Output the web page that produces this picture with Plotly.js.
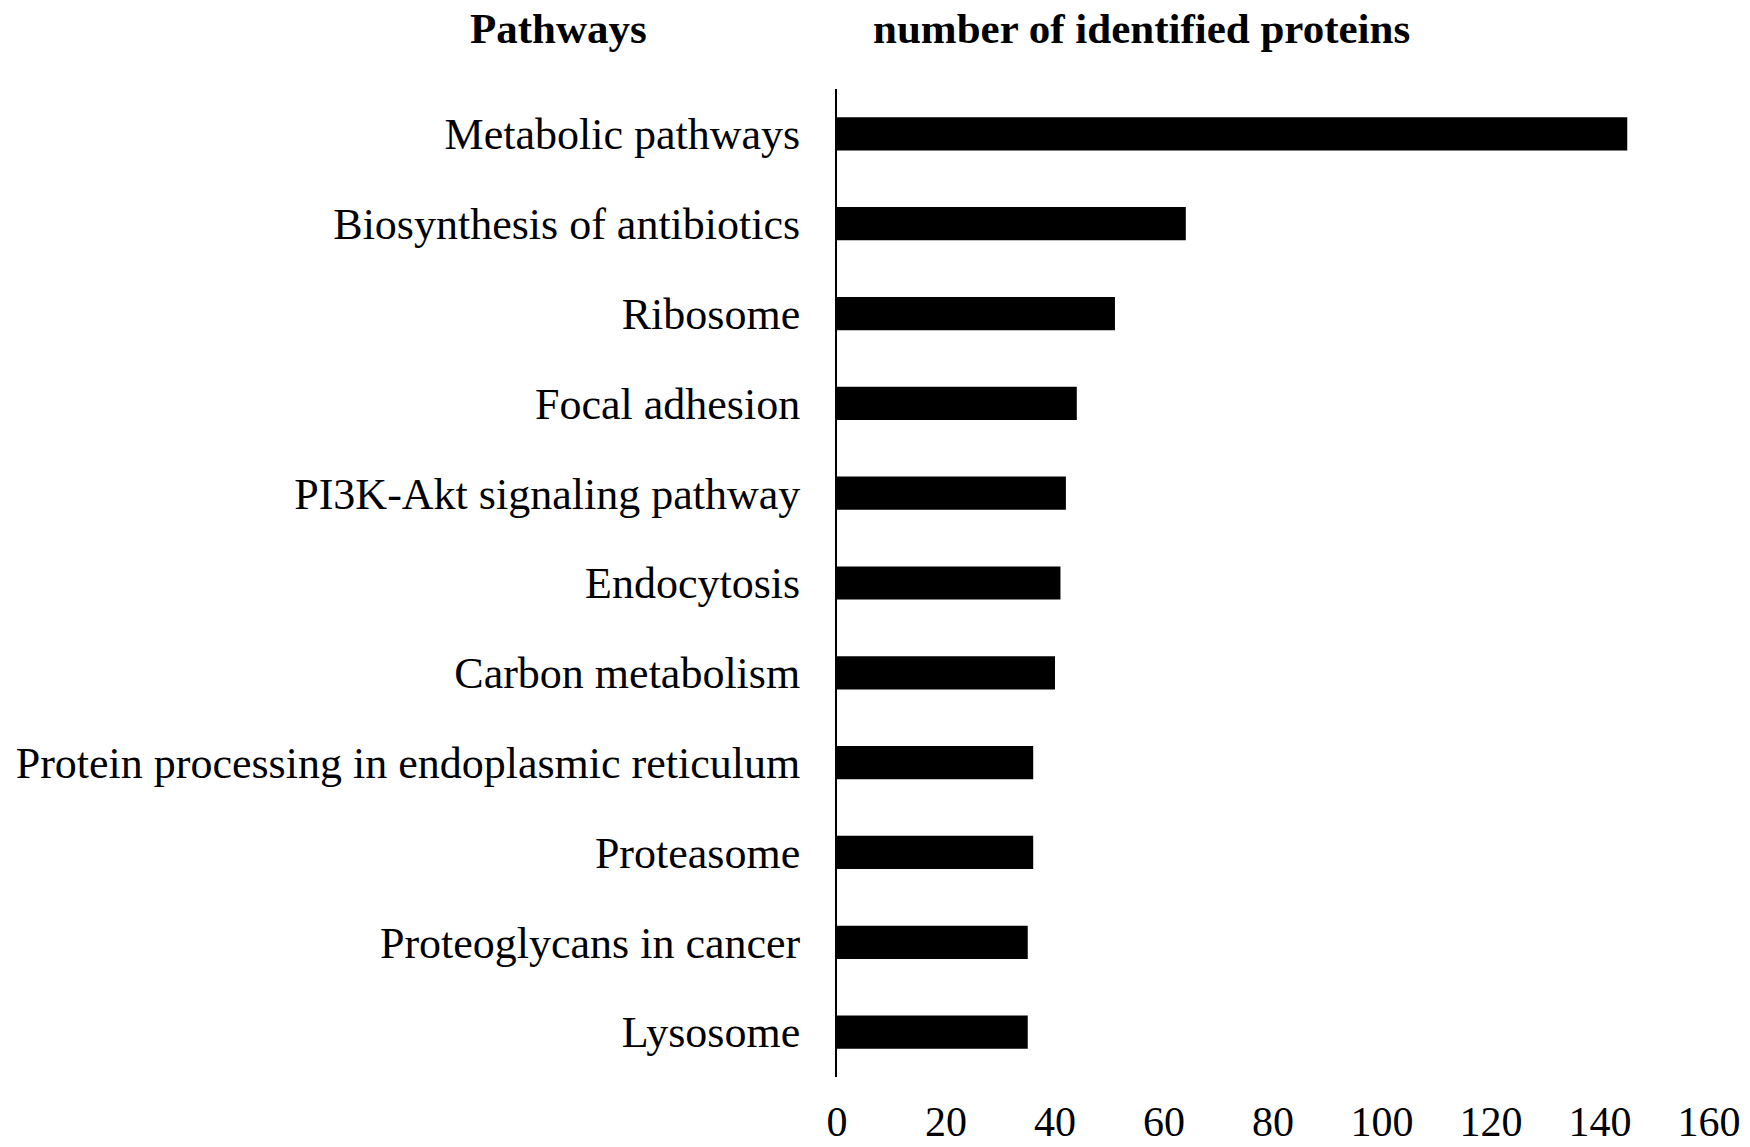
<!DOCTYPE html>
<html><head><meta charset="utf-8">
<script src="https://cdn.plot.ly/plotly-3.0.1.min.js"></script>
<style>body{margin:0;background:#fff}#c{width:1750px;height:1147px}</style>
</head><body><div id="c"></div>
<script>
const pathways = ["Metabolic pathways","Biosynthesis of antibiotics","Ribosome","Focal adhesion","PI3K-Akt signaling pathway","Endocytosis","Carbon metabolism","Protein processing in endoplasmic reticulum","Proteasome","Proteoglycans in cancer","Lysosome"];
const counts = [145,64,51,44,42,41,40,36,36,35,35];
const xTicks = [0,20,40,60,80,100,120,140,160];

const font = {family:"Liberation Serif, Times New Roman, serif", color:"#000"};
const L = 837, R = 1709, T = 89, B = 1077;
Plotly.newPlot("c",[{
  type:"bar", orientation:"h", x:counts, y:pathways,
  marker:{color:"#000"}, hoverinfo:"none"
}],{
  width:1750,height:1147,
  margin:{l:L,r:1750-R,t:T,b:1147-B},
  paper_bgcolor:"#fff",plot_bgcolor:"#fff",
  showlegend:false, bargap:0.63,
  font:Object.assign({size:44},font),
  xaxis:{range:[0,160],tickvals:xTicks,showgrid:false,zeroline:false,showline:false,ticks:"",ticklabelstandoff:16,tickfont:Object.assign({size:42},font)},
  yaxis:{autorange:"reversed",showgrid:false,zeroline:false,showline:true,linecolor:"#000",linewidth:2,ticks:"",ticklabelstandoff:26,tickfont:Object.assign({size:44},font)},
  annotations:[
    {text:"<b>Pathways</b>",xref:"paper",yref:"paper",x:(558-L)/(R-L),y:1+(T-28)/(B-T),showarrow:false,xanchor:"center",yanchor:"middle",font:Object.assign({size:43},font)},
    {text:"<b>number of identified proteins</b>",xref:"paper",yref:"paper",x:(1141-L)/(R-L),y:1+(T-28)/(B-T),showarrow:false,xanchor:"center",yanchor:"middle",font:Object.assign({size:43},font)}
  ]
},{staticPlot:true});
</script></body></html>
